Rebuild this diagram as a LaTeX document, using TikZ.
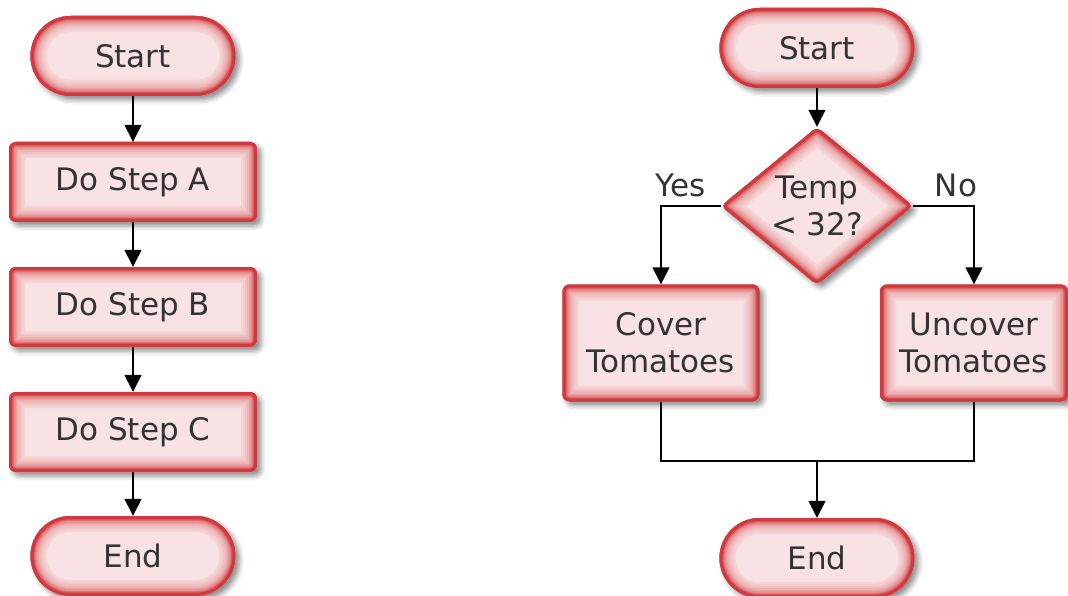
\documentclass[tikz,border=0pt]{standalone}
\usepackage{fontspec}
\setmainfont{DejaVu Sans}
\usetikzlibrary{shapes.geometric,arrows.meta,shadows.blur}
\definecolor{boxfill}{HTML}{F8E2E3}
\definecolor{boxred}{HTML}{D0393D}
\definecolor{txt}{HTML}{333333}
\tikzset{
  lbl/.style={font=\fontsize{31}{37}\selectfont, text=txt, align=center, inner sep=0pt},
  softshadow/.style={blur shadow={shadow xshift=4pt, shadow yshift=-4pt, shadow blur radius=5pt, shadow opacity=45}},
  glowrect/.style={lbl, rectangle, rounded corners=#1, fill=boxfill, softshadow,
    path picture={\foreach \ww/\cc in {32/8,28/13,24/20,20/28,16/38,13/50,10/64,8/80,6/100}{\draw[line width=\ww pt, draw=boxred!\cc!boxfill, rounded corners=#1] (path picture bounding box.south west) rectangle (path picture bounding box.north east);}}},
  terminal/.style={glowrect=40pt, minimum width=#1, minimum height=80pt},
  procbox/.style={glowrect=7pt, minimum width=#1, minimum height=80pt},
  tallbox/.style={glowrect=7pt, minimum width=#1, minimum height=117pt},
  decision/.style={lbl, diamond, aspect=1.218, minimum width=192pt, minimum height=158pt, fill=boxfill, rounded corners=5pt, softshadow,
    path picture={\foreach \ww/\cc in {32/8,28/13,24/20,20/28,16/38,13/50,10/64,8/80,6/100}{\draw[line width=\ww pt, draw=boxred!\cc!boxfill, rounded corners=5pt] (path picture bounding box.north) -- (path picture bounding box.east) -- (path picture bounding box.south) -- (path picture bounding box.west) -- cycle;}}},
  conn/.style={line width=1.4pt, draw=black},
  arr/.style={conn, -{Triangle[width=17pt,length=17pt]}}
}
\begin{document}
\begin{tikzpicture}[x=1pt,y=-1pt]
\useasboundingbox (0,0) rectangle (1068,596);
% left flowchart
\node[terminal=205pt] (ls) at (133,56) {Start};
\node[procbox=248pt] (la) at (133,182) {Do Step A};
\node[procbox=248pt] (lb) at (133,307) {Do Step B};
\node[procbox=248pt] (lc) at (133,432) {Do Step C};
\node[terminal=205pt] (le) at (133,556) {End};
\draw[arr] (ls.south) -- (la.north);
\draw[arr] (la.south) -- (lb.north);
\draw[arr] (lb.south) -- (lc.north);
\draw[arr] (lc.south) -- (le.north);
% right flowchart
\node[terminal=195pt] (rs) at (817,48) {Start};
\node[decision] (dec) at (817,206) {Temp\\< 32?};
\node[tallbox=197pt] (cov) at (661,343) {Cover\\Tomatoes};
\node[tallbox=188pt] (unc) at (974,343) {Uncover\\Tomatoes};
\node[terminal=195pt] (re) at (817,558) {End};
\coordinate (join) at (817,461);
\draw[arr] (rs.south) -- (dec.north);
\draw[arr] (dec.west) -| (cov.north);
\draw[arr] (dec.east) -| (unc.north);
\draw[conn] (cov.south) |- (join) -| (unc.south);
\draw[arr] (join) -- (re.north);
\node[lbl] (yes) at (681,185) {Yes};
\node[lbl] (no) at (956,185) {No};
\end{tikzpicture}
\end{document}
